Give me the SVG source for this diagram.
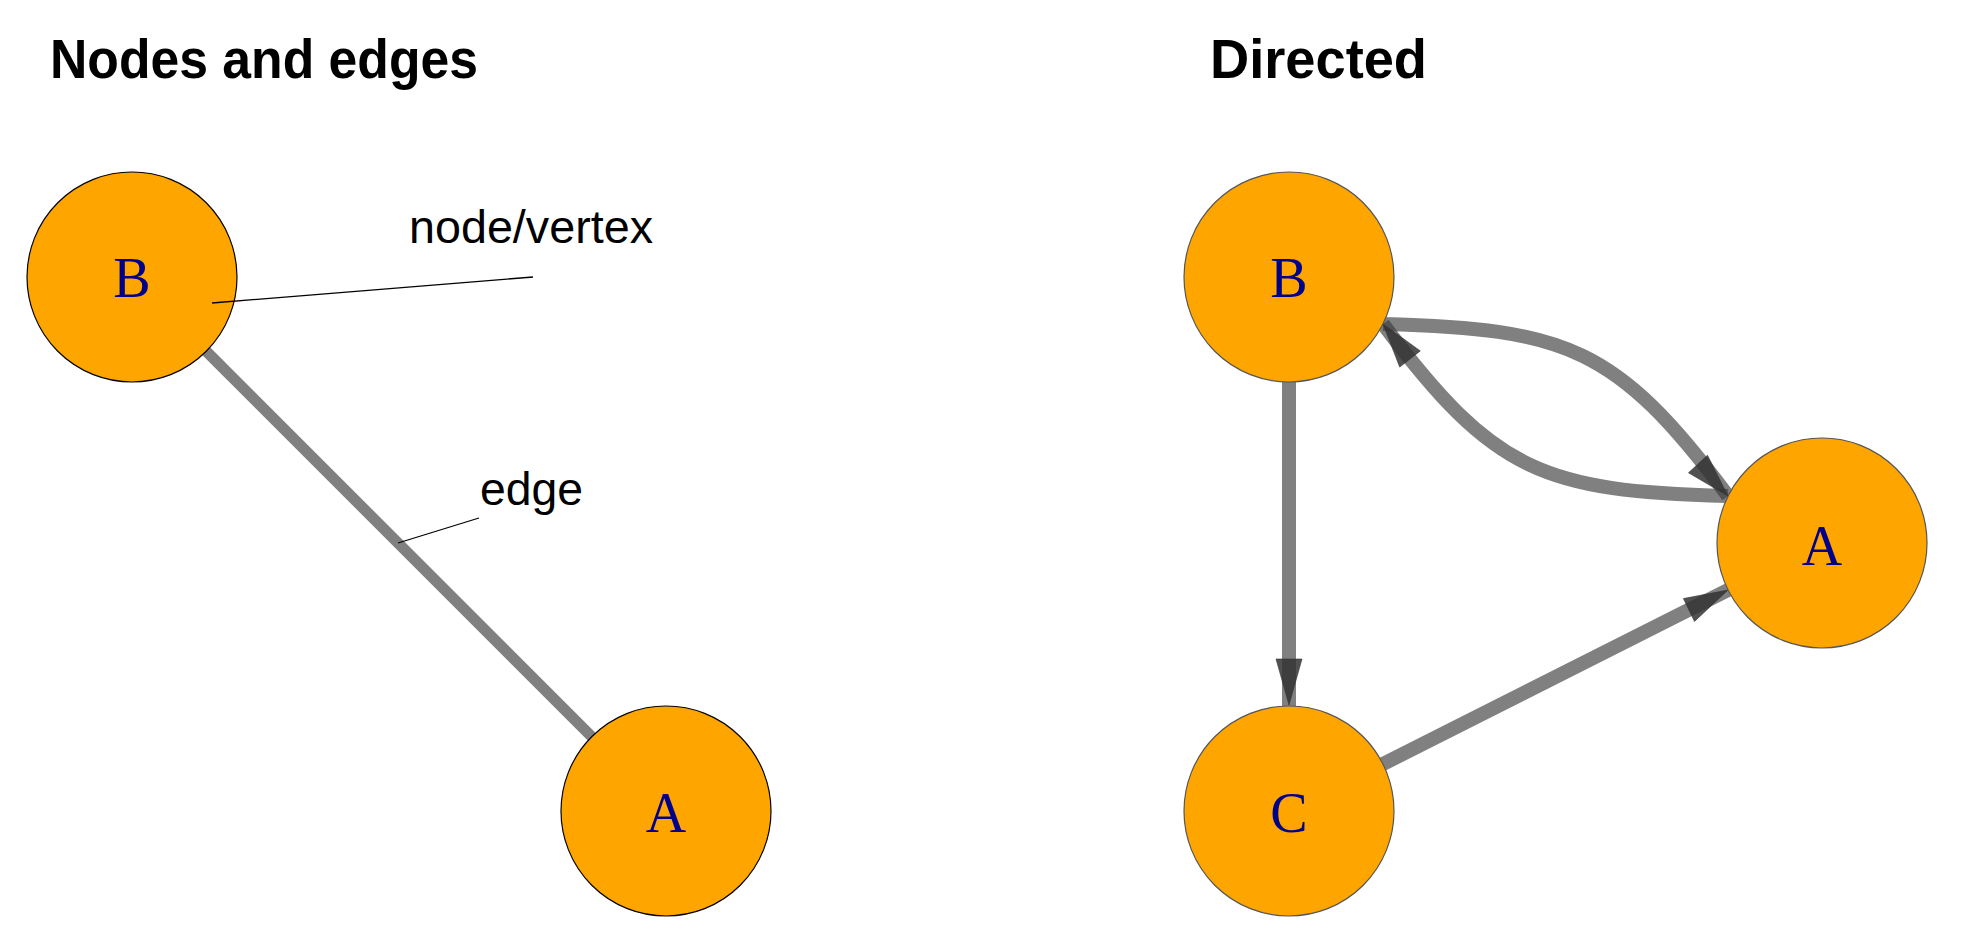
<svg xmlns="http://www.w3.org/2000/svg" width="1972" height="952" viewBox="0 0 1972 952">
  <style>
    .title { font-family: "Liberation Sans", Arial, sans-serif; font-weight: bold; font-size: 56px; fill: #000; }
    .note { font-family: "Liberation Sans", Arial, sans-serif; font-size: 46px; fill: #000; }
    .lbl { font-family: "Liberation Serif", "Times New Roman", serif; font-size: 56px; fill: #00008B; text-anchor: middle; }
    .nodeL { fill: #FFA500; stroke: #000; stroke-width: 1.2; }
    .nodeR { fill: #FFA500; stroke: #555; stroke-width: 1.2; }
    .edgeL { stroke: #808080; stroke-width: 11; fill: none; }
    .edgeR { stroke: #3c3c3c; stroke-opacity: 0.65; stroke-width: 14; fill: none; }
    .arrow { fill: #333; fill-opacity: 0.85; stroke: #333; stroke-opacity: 0.6; stroke-width: 1; }
    .leader { stroke: #000; stroke-width: 1.3; fill: none; }
  </style>
  <rect width="1972" height="952" fill="#fff"/>

  <text class="title" x="50" y="78" textLength="428" lengthAdjust="spacingAndGlyphs">Nodes and edges</text>
  <text class="title" x="1210" y="78" textLength="217" lengthAdjust="spacingAndGlyphs">Directed</text>

  <g id="connectors">
    <!-- left: undirected edge B - A -->
    <line class="edgeL" x1="132" y1="277" x2="665" y2="810"/>
    <!-- right: B -> C -->
    <line class="edgeR" x1="1289" y1="382" x2="1289" y2="706"/>
    <!-- right: C -> A -->
    <line class="edgeR" x1="1383" y1="764" x2="1728" y2="590"/>
    <!-- right: B -> A (upper curve) -->
    <path class="edgeR" d="M1383,324 C1566,329 1616,346 1728,496"/>
    <!-- right: A -> B (lower curve) -->
    <path class="edgeR" d="M1728,496 C1545,491 1495,474 1383,324"/>
    <!-- arrowheads -->
    <polygon class="arrow" points="1289,705 1276,659 1302,659"/>
    <polygon class="arrow" points="1728,590 1694.5,621.4 1683.4,598.6"/>
    <polygon class="arrow" points="1728,496 1707.5,455.2 1688.5,472.8"/>
    <polygon class="arrow" points="1383,324 1420.3,350.9 1399.7,367.1"/>
  </g>

  <g id="nodeL_B">
    <circle class="nodeL" cx="132" cy="277" r="105"/>
    <text class="lbl" x="132" y="297">B</text>
  </g>
  <g id="nodeL_A">
    <circle class="nodeL" cx="666" cy="811" r="105"/>
    <text class="lbl" x="666" y="832">A</text>
  </g>

  <g id="annotations">
    <line class="leader" x1="212" y1="303" x2="533" y2="277"/>
    <text class="note" x="409" y="243" textLength="244" lengthAdjust="spacingAndGlyphs">node/vertex</text>
    <line class="leader" x1="398" y1="543" x2="479" y2="518"/>
    <text class="note" x="480" y="505" textLength="103" lengthAdjust="spacingAndGlyphs">edge</text>
  </g>

  <g id="nodeR_B">
    <circle class="nodeR" cx="1289" cy="277" r="105"/>
    <text class="lbl" x="1289" y="297">B</text>
  </g>
  <g id="nodeR_A">
    <circle class="nodeR" cx="1822" cy="543" r="105"/>
    <text class="lbl" x="1822" y="565">A</text>
  </g>
  <g id="nodeR_C">
    <circle class="nodeR" cx="1289" cy="811" r="105"/>
    <text class="lbl" x="1289" y="832">C</text>
  </g>
</svg>
